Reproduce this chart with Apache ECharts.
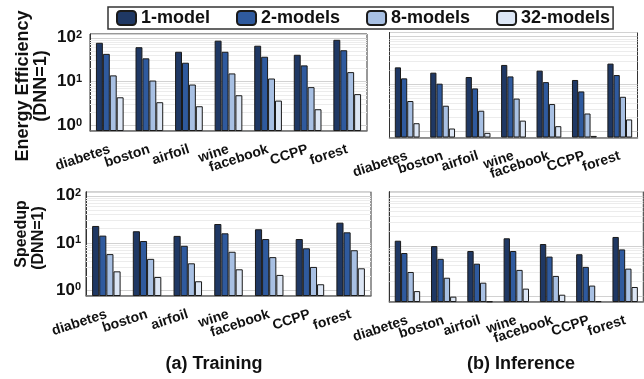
<!DOCTYPE html>
<html>
<head>
<meta charset="utf-8">
<script src="https://cdn.jsdelivr.net/npm/echarts@6/dist/echarts.min.js"></script>
<style>
  html, body { margin: 0; padding: 0; background: #ffffff; }
  #chart { width: 644px; height: 379px; }
</style>
</head>
<body>
<div id="chart"></div>
<script>
// Datasets on the x axis and the four ensemble sizes
const datasets = ['diabetes', 'boston', 'airfoil', 'wine', 'facebook', 'CCPP', 'forest'];
const seriesNames = ['1-model', '2-models', '8-models', '32-models'];
const tickExponents = [0, 1, 2];           // y tick labels 10^0 .. 10^2
const minorGridValues = [2, 3, 4, 5, 6, 7, 8, 9, 20, 30, 40, 50, 60, 70, 80, 90];

// Energy efficiency, training (normalised to DNN = 1)
const trainEnergy1 = [77, 61, 48, 86, 66, 41, 90];
const trainEnergy2 = [43, 34, 27, 48, 37, 23.5, 52];
const trainEnergy8 = [13.9, 10.6, 8.6, 15.4, 11.8, 7.5, 16.5];
const trainEnergy32 = [4.4, 3.4, 2.75, 4.9, 3.7, 2.35, 5.2];

// Energy efficiency, inference
const inferEnergy1 = [22.5, 17.4, 14.1, 25.3, 19.2, 12.2, 27];
const inferEnergy2 = [13.2, 10.2, 8.1, 14.5, 11.0, 7.0, 15.5];
const inferEnergy8 = [4.4, 3.5, 2.75, 4.95, 3.8, 2.4, 5.4];
const inferEnergy32 = [1.5, 1.16, 0.94, 1.7, 1.3, 0.81, 1.8];

// Speedup, training
const trainSpeed1 = [22.9, 17.7, 14.1, 25.2, 19.5, 12.1, 26.9];
const trainSpeed2 = [14.3, 11.0, 8.7, 16.0, 12.1, 7.7, 16.8];
const trainSpeed8 = [5.8, 4.6, 3.7, 6.5, 5.0, 3.1, 7.0];
const trainSpeed32 = [2.5, 1.9, 1.54, 2.76, 2.1, 1.33, 2.9];

// Speedup, inference
const inferSpeed1 = [12.7, 9.9, 7.9, 14.2, 10.9, 6.8, 15.1];
const inferSpeed2 = [7.2, 5.5, 4.4, 7.9, 6.1, 3.8, 8.5];
const inferSpeed8 = [3.0, 2.3, 1.83, 3.3, 2.5, 1.6, 3.5];
const inferSpeed32 = [1.24, 0.96, 0.77, 1.39, 1.05, 0.78, 1.5];

const FONT = '"Liberation Sans", Arial, Helvetica, sans-serif';
const colors = ['#1f3864', '#2f5a9e', '#a8c0e3', '#dce6f5'];
const Y_MIN = 0.75, Y_MAX = 122;

const panels = [
  { grid: { left: 90, top: 34, width: 277, height: 97 }, labels: true, labelMargin: 8,
    data: [trainEnergy1, trainEnergy2, trainEnergy8, trainEnergy32] },
  { grid: { left: 389.5, top: 32.5, width: 248, height: 105 }, labels: false, labelMargin: 8,
    data: [inferEnergy1, inferEnergy2, inferEnergy8, inferEnergy32] },
  { grid: { left: 86, top: 191.7, width: 285, height: 104.3 }, labels: true, labelMargin: 5,
    data: [trainSpeed1, trainSpeed2, trainSpeed8, trainSpeed32] },
  { grid: { left: 389.3, top: 191.7, width: 254, height: 110.3 }, labels: false, labelMargin: 5,
    data: [inferSpeed1, inferSpeed2, inferSpeed8, inferSpeed32] }
];

const grids = [], xAxes = [], yAxes = [], series = [];
panels.forEach((p, i) => {
  grids.push(Object.assign({ show: true, borderColor: '#333', borderWidth: 1, backgroundColor: 'transparent' }, p.grid));
  xAxes.push({
    type: 'category', gridIndex: i, data: datasets,
    axisLine: { show: true, lineStyle: { color: '#777', width: 1.5 } },
    axisTick: { show: false },
    axisLabel: { rotate: 18, margin: 18, fontSize: 14, fontWeight: 'bold', fontFamily: FONT, color: '#111', interval: 0 }
  });
  yAxes.push({
    type: 'log', logBase: 10, gridIndex: i, min: Y_MIN, max: Y_MAX, startValue: Y_MIN,
    axisLine: { show: true, lineStyle: { color: '#333' } },
    axisTick: { show: false },
    splitLine: { show: true, lineStyle: { color: '#d2d2d2', width: 1 } },
    axisLabel: {
      show: p.labels, margin: p.labelMargin, showMinLabel: false, showMaxLabel: false,
      formatter: v => {
        const e = Math.log10(v);
        const r = Math.round(e);
        if (Math.abs(e - r) > 1e-6 || tickExponents.indexOf(r) < 0) return '';
        return '{b|10}{s|' + r + '}';
      },
      rich: {
        b: { fontSize: 17, fontWeight: 'bold', fontFamily: FONT, color: '#111', verticalAlign: 'bottom' },
        s: { fontSize: 11, fontWeight: 'bold', fontFamily: FONT, color: '#111', verticalAlign: 'top' }
      }
    }
  });
  p.data.forEach((vals, k) => {
    const s = {
      name: seriesNames[k], type: 'bar', xAxisIndex: i, yAxisIndex: i, data: vals,
      barGap: '0%', barCategoryGap: '30%', z: 10,
      itemStyle: { color: colors[k], borderColor: '#1a1a1a', borderWidth: 1 },
      emphasis: { disabled: true }
    };
    if (k === 0) {
      s.markLine = {
        silent: true, symbol: 'none', label: { show: false },
        lineStyle: { color: '#ececec', width: 1, type: 'solid' },
        data: minorGridValues.map(v => ({ yAxis: v }))
      };
    }
    series.push(s);
  });
});

const chart = echarts.init(document.getElementById('chart'), null, { renderer: 'canvas' });
chart.setOption({
  animation: false,
  backgroundColor: '#ffffff',
  textStyle: { fontFamily: FONT },
  legend: {
    data: seriesNames, left: 108, top: 7, itemWidth: 19, itemHeight: 14, itemGap: 26,
    padding: [2, 3, 2, 8], borderColor: '#333', borderWidth: 1.5,
    textStyle: { fontSize: 18, fontWeight: 'bold', fontFamily: FONT, color: '#111', lineHeight: 18 }
  },
  grid: grids,
  xAxis: xAxes,
  yAxis: yAxes,
  series: series,
  graphic: [
    { type: 'text', x: 23, y: 86, rotation: Math.PI / 2,
      style: { text: 'Energy Efficiency', align: 'center', verticalAlign: 'middle', font: 'bold 18px ' + FONT, fill: '#111' } },
    { type: 'text', x: 41.5, y: 86, rotation: Math.PI / 2,
      style: { text: '(DNN=1)', align: 'center', verticalAlign: 'middle', font: 'bold 18px ' + FONT, fill: '#111' } },
    { type: 'text', x: 21.5, y: 234, rotation: Math.PI / 2,
      style: { text: 'Speedup', align: 'center', verticalAlign: 'middle', font: 'bold 16px ' + FONT, fill: '#111' } },
    { type: 'text', x: 38.5, y: 238, rotation: Math.PI / 2,
      style: { text: '(DNN=1)', align: 'center', verticalAlign: 'middle', font: 'bold 16px ' + FONT, fill: '#111' } },
    { type: 'text', x: 214, y: 364,
      style: { text: '(a) Training', align: 'center', verticalAlign: 'middle', font: 'bold 18px ' + FONT, fill: '#111' } },
    { type: 'text', x: 521, y: 364,
      style: { text: '(b) Inference', align: 'center', verticalAlign: 'middle', font: 'bold 18px ' + FONT, fill: '#111' } }
  ]
});
</script>
</body>
</html>
